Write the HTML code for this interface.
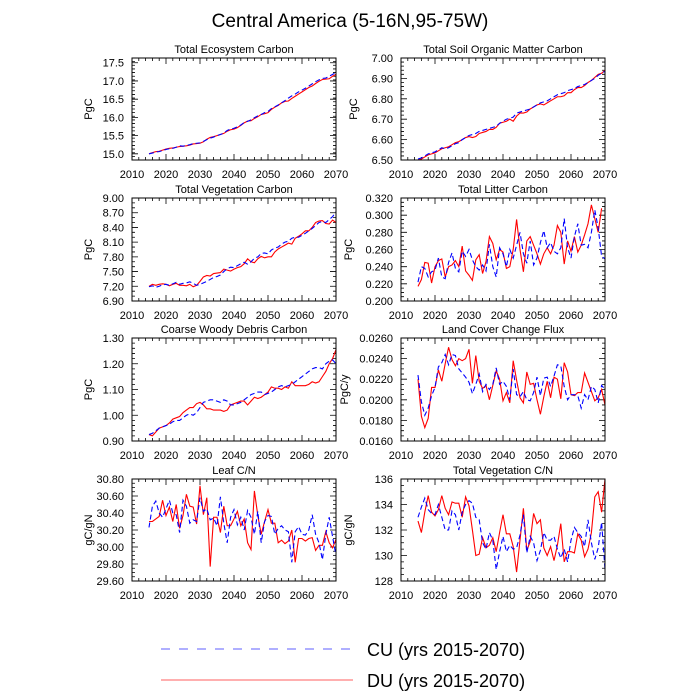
<!DOCTYPE html>
<html><head><meta charset="utf-8"><style>
html,body{margin:0;padding:0;background:#fff;}
svg{display:block;font-family:"Liberation Sans",Arial,sans-serif;}
</style></head><body>
<svg id="fig" width="700" height="700" viewBox="0 0 700 700">
<text x="350" y="27" text-anchor="middle" font-size="19">Central America (5-16N,95-75W)</text>
<g>
<line x1="161" y1="649" x2="353" y2="649" stroke="#5f5fff" stroke-width="1" stroke-dasharray="9,9"/>
<text x="367" y="656" font-size="18">CU (yrs 2015-2070)</text>
<line x1="161" y1="680" x2="353" y2="680" stroke="#ff5f5f" stroke-width="1"/>
<text x="367" y="687" font-size="18">DU (yrs 2015-2070)</text>
</g>
</svg>
<script>
// ---- data (one value per year, starting 2015) ----
const xTickLabels = ["2010","2020","2030","2040","2050","2060","2070"];
const ecoCU = [15.00,15.02,15.05,15.06,15.09,15.12,15.14,15.15,15.18,15.22,15.21,15.23,15.25,15.28,15.29,15.30,15.34,15.39,15.43,15.46,15.50,15.53,15.57,15.64,15.68,15.70,15.74,15.79,15.86,15.89,15.93,15.99,16.04,16.08,16.13,16.16,16.24,16.29,16.34,16.40,16.46,16.53,16.59,16.64,16.70,16.75,16.80,16.86,16.92,16.98,17.03,17.07,17.08,17.13,17.18,17.23];
const ecoDU = [15.00,15.03,15.06,15.07,15.10,15.13,15.15,15.16,15.18,15.20,15.21,15.22,15.24,15.27,15.28,15.29,15.33,15.40,15.45,15.47,15.50,15.53,15.56,15.62,15.66,15.68,15.72,15.78,15.85,15.90,15.91,15.97,16.02,16.08,16.10,16.13,16.22,16.28,16.33,16.40,16.44,16.45,16.52,16.58,16.64,16.70,16.76,16.82,16.86,16.93,16.99,17.04,17.05,17.06,17.13,17.18];
const ecoTicks = ["15.0","15.5","16.0","16.5","17.0","17.5"];
const soilCU = [6.505,6.51,6.52,6.53,6.535,6.54,6.55,6.56,6.555,6.56,6.57,6.58,6.585,6.60,6.61,6.62,6.625,6.63,6.64,6.645,6.65,6.655,6.66,6.665,6.68,6.69,6.70,6.705,6.71,6.73,6.735,6.74,6.745,6.75,6.76,6.77,6.78,6.785,6.79,6.80,6.81,6.82,6.825,6.83,6.84,6.845,6.85,6.86,6.865,6.87,6.88,6.89,6.90,6.915,6.925,6.935];
const soilDU = [6.50,6.505,6.515,6.525,6.53,6.535,6.545,6.555,6.56,6.565,6.575,6.585,6.59,6.60,6.61,6.615,6.61,6.615,6.63,6.635,6.64,6.65,6.65,6.66,6.68,6.685,6.69,6.70,6.69,6.715,6.73,6.73,6.735,6.75,6.76,6.77,6.775,6.77,6.78,6.79,6.80,6.81,6.81,6.815,6.83,6.83,6.845,6.855,6.855,6.865,6.88,6.89,6.905,6.92,6.925,6.94];
const soilTicks = ["6.50","6.60","6.70","6.80","6.90","7.00"];
const vegCU = [7.19,7.21,7.18,7.20,7.23,7.24,7.22,7.25,7.28,7.24,7.26,7.27,7.29,7.26,7.22,7.24,7.27,7.30,7.34,7.38,7.40,7.43,7.50,7.56,7.59,7.58,7.62,7.66,7.69,7.65,7.70,7.77,7.80,7.87,7.88,7.86,7.94,7.98,8.00,8.06,8.10,8.12,8.18,8.20,8.20,8.24,8.28,8.33,8.38,8.44,8.50,8.52,8.50,8.56,8.62,8.72];
const vegDU = [7.20,7.24,7.22,7.24,7.25,7.24,7.21,7.24,7.26,7.22,7.22,7.21,7.24,7.19,7.22,7.30,7.39,7.42,7.41,7.46,7.47,7.48,7.55,7.53,7.51,7.55,7.58,7.60,7.66,7.76,7.70,7.68,7.76,7.81,7.78,7.80,7.80,7.90,7.96,8.00,8.04,8.08,8.06,8.18,8.22,8.27,8.33,8.33,8.40,8.50,8.53,8.54,8.48,8.47,8.55,8.50];
const vegTicks = ["6.90","7.20","7.50","7.80","8.10","8.40","8.70","9.00"];
const litCU = [0.222,0.240,0.238,0.228,0.234,0.236,0.250,0.228,0.226,0.245,0.256,0.238,0.234,0.258,0.252,0.260,0.248,0.240,0.236,0.242,0.235,0.266,0.240,0.228,0.262,0.255,0.240,0.260,0.250,0.265,0.280,0.255,0.244,0.270,0.242,0.250,0.268,0.282,0.262,0.268,0.258,0.255,0.262,0.296,0.262,0.250,0.275,0.290,0.265,0.266,0.262,0.280,0.306,0.285,0.252,0.249];
const litDU = [0.217,0.225,0.245,0.244,0.221,0.240,0.247,0.249,0.228,0.240,0.242,0.247,0.240,0.264,0.235,0.230,0.224,0.248,0.254,0.232,0.246,0.275,0.267,0.248,0.260,0.257,0.238,0.240,0.260,0.295,0.260,0.234,0.270,0.275,0.265,0.255,0.243,0.255,0.262,0.255,0.265,0.288,0.280,0.243,0.270,0.258,0.275,0.257,0.265,0.277,0.290,0.312,0.296,0.280,0.308];
const litTicks = ["0.200","0.220","0.240","0.260","0.280","0.300","0.320"];
const cwdCU = [0.925,0.93,0.94,0.95,0.955,0.96,0.965,0.975,0.98,0.98,0.99,1.00,1.005,1.00,1.01,1.03,1.05,1.055,1.06,1.06,1.055,1.05,1.06,1.055,1.04,1.04,1.045,1.05,1.06,1.07,1.08,1.085,1.09,1.09,1.08,1.085,1.09,1.10,1.11,1.115,1.11,1.115,1.12,1.13,1.14,1.15,1.16,1.17,1.18,1.185,1.185,1.18,1.20,1.21,1.215,1.20];
const cwdDU = [0.925,0.92,0.935,0.95,0.955,0.96,0.97,0.985,0.99,0.995,1.01,1.02,1.03,1.03,1.045,1.05,1.04,1.025,1.025,1.02,1.02,1.02,1.015,1.02,1.04,1.045,1.05,1.055,1.055,1.04,1.055,1.07,1.065,1.07,1.08,1.09,1.11,1.105,1.105,1.10,1.11,1.105,1.13,1.115,1.115,1.115,1.115,1.12,1.13,1.125,1.13,1.15,1.17,1.20,1.22,1.255];
const cwdTicks = ["0.90","1.00","1.10","1.20","1.30"];
const lccCU = [0.0224,0.0198,0.0185,0.0192,0.0204,0.0212,0.0232,0.0236,0.0244,0.0234,0.0244,0.0243,0.0230,0.0226,0.0222,0.0217,0.0206,0.0215,0.0225,0.0208,0.0215,0.0210,0.0215,0.0231,0.0215,0.0218,0.0213,0.0200,0.0230,0.0205,0.0203,0.0208,0.0200,0.0199,0.0207,0.0222,0.0204,0.0221,0.0222,0.0213,0.0223,0.0234,0.0233,0.0213,0.0200,0.0205,0.0205,0.0204,0.0192,0.0205,0.0200,0.0213,0.0210,0.0197,0.0214,0.0210];
const lccDU = [0.0220,0.0184,0.0173,0.0182,0.0212,0.0212,0.0229,0.0218,0.0235,0.0251,0.0239,0.0233,0.0240,0.0238,0.0240,0.0249,0.0216,0.0243,0.0218,0.0211,0.0214,0.0200,0.0214,0.0228,0.0220,0.0199,0.0207,0.0197,0.0238,0.0219,0.0202,0.0197,0.0227,0.0215,0.0216,0.0200,0.0186,0.0203,0.0218,0.0202,0.0222,0.0220,0.0201,0.0236,0.0227,0.0205,0.0204,0.0207,0.0207,0.0226,0.0217,0.0208,0.0199,0.0202,0.0210,0.0195];
const lccTicks = ["0.0160","0.0180","0.0200","0.0220","0.0240","0.0260"];
const leafCU = [30.23,30.48,30.54,30.40,30.35,30.45,30.55,30.40,30.38,30.17,30.55,30.48,30.28,30.32,30.30,30.58,30.42,30.45,30.32,30.34,30.25,30.59,30.28,30.05,30.35,30.44,30.26,30.35,30.20,30.43,30.35,30.15,30.42,30.05,30.30,30.37,30.36,30.15,30.22,30.25,30.20,30.18,29.82,30.18,30.24,30.15,30.14,30.20,30.38,30.15,30.05,29.85,30.15,30.35,30.12,29.90];
const leafDU = [30.30,30.30,30.33,30.36,30.55,30.37,30.47,30.30,30.50,30.22,30.37,30.62,30.48,30.47,30.27,30.72,30.38,30.58,29.77,30.35,30.35,30.17,30.48,30.25,30.25,30.33,30.42,30.25,30.33,30.05,29.97,30.66,30.37,30.15,30.30,30.44,30.28,30.28,30.05,30.08,30.04,30.07,30.20,29.82,30.10,30.10,30.07,30.10,30.11,29.96,30.02,30.02,30.18,30.05,29.99,30.09];
const leafTicks = ["29.60","29.80","30.00","30.20","30.40","30.60","30.80"];
const vcnCU = [133.0,133.8,134.5,133.6,133.3,133.2,134.0,133.0,132.0,132.0,133.5,133.2,132.0,133.4,134.0,134.3,134.1,133.0,132.8,131.0,130.5,131.8,131.2,128.9,130.3,131.5,130.3,130.8,130.5,130.6,131.6,133.2,130.2,131.5,131.0,129.6,130.4,131.8,131.2,131.2,131.5,130.5,129.8,130.5,129.5,131.2,132.2,131.8,131.5,130.7,132.8,131.0,129.7,130.6,132.6,128.9];
const vcnDU = [132.7,131.8,133.4,134.7,133.4,133.1,133.6,134.7,133.7,133.2,134.2,134.1,134.1,133.0,134.6,133.9,132.0,130.0,130.1,131.4,130.6,130.8,131.4,130.3,131.8,133.2,131.7,131.7,130.7,128.7,131.2,133.7,130.4,131.1,133.3,132.5,132.8,130.6,130.0,130.7,129.6,130.8,132.5,129.5,130.3,130.3,130.2,131.7,131.2,129.9,130.5,131.8,134.6,135.0,133.4,136.0];
const vcnTicks = ["128","130","132","134","136"];

// ---- layout ----
const NS="http://www.w3.org/2000/svg";
const svg=document.getElementById('fig');
const colX=[[132,336],[401,605]];
const rowY=[[58,160],[198,301],[338,441],[479,581]];
const panels=[
 {name:'ecosystem-carbon',title:'Total Ecosystem Carbon',unit:'PgC',r:0,c:0,ymin:14.83,ymax:17.63,ticks:ecoTicks,cu:ecoCU,du:ecoDU,minor:0.1},
 {name:'soil-carbon',title:'Total Soil Organic Matter Carbon',unit:'PgC',r:0,c:1,ymin:6.5,ymax:7.0,ticks:soilTicks,cu:soilCU,du:soilDU,minor:0.02},
 {name:'vegetation-carbon',title:'Total Vegetation Carbon',unit:'PgC',r:1,c:0,ymin:6.9,ymax:9.0,ticks:vegTicks,cu:vegCU,du:vegDU,minor:0.1},
 {name:'litter-carbon',title:'Total Litter Carbon',unit:'PgC',r:1,c:1,ymin:0.2,ymax:0.32,ticks:litTicks,cu:litCU,du:litDU,minor:0.005},
 {name:'cwd-carbon',title:'Coarse Woody Debris Carbon',unit:'PgC',r:2,c:0,ymin:0.9,ymax:1.3,ticks:cwdTicks,cu:cwdCU,du:cwdDU,minor:0.02},
 {name:'land-cover-flux',title:'Land Cover Change Flux',unit:'PgC/y',r:2,c:1,ymin:0.016,ymax:0.026,ticks:lccTicks,cu:lccCU,du:lccDU,minor:0.0005},
 {name:'leaf-cn',title:'Leaf C/N',unit:'gC/gN',r:3,c:0,ymin:29.6,ymax:30.8,ticks:leafTicks,cu:leafCU,du:leafDU,minor:0.05},
 {name:'vegetation-cn',title:'Total Vegetation C/N',unit:'gC/gN',r:3,c:1,ymin:128,ymax:136,ticks:vcnTicks,cu:vcnCU,du:vcnDU,minor:0.5}
];
function mk(tag,attrs,parent){const e=document.createElementNS(NS,tag);for(const k in attrs)e.setAttribute(k,attrs[k]);parent.appendChild(e);return e;}
panels.forEach(p=>{
 const [x0,x1]=colX[p.c],[y0,y1]=rowY[p.r];
 const xs=yr=>x0+(yr-2010)/60*(x1-x0);
 const ys=v=>y1-(v-p.ymin)/(p.ymax-p.ymin)*(y1-y0);
 const g=mk('g',{},svg);
 
 
 const t=mk('text',{x:(x0+x1)/2,y:y0-5,'text-anchor':'middle','font-size':'11'},g);t.textContent=p.title;
 
 
 let tk='';
 for(let yr=2010;yr<=2070;yr+=2){const X=xs(yr);const L=(yr%10===0)?6:3;tk+=`M${X},${y1}v${-L}M${X},${y0}v${L}`;}
 for(let v=p.ymin;v<=p.ymax+1e-9;v+=p.minor){const Y=ys(v);tk+=`M${x0},${Y}h3M${x1},${Y}h-3`;}
 p.ticks.forEach(s=>{const Y=ys(parseFloat(s));tk+=`M${x0},${Y}h6M${x1},${Y}h-6`;});
 const tp=mk('path',{d:tk,stroke:'#000','stroke-width':'0.8',fill:'none'},g);
 
 
 xTickLabels.forEach(s=>{const l=mk('text',{x:xs(+s),y:y1+18,'text-anchor':'middle','font-size':'11'},g);l.textContent=s;
  
  });
 p.ticks.forEach(s=>{const l=mk('text',{x:x0-8,y:ys(parseFloat(s))+4,'text-anchor':'end','font-size':'11'},g);l.textContent=s;
  
  });
 const ux=p.c===0?92:(p.name==='soil-carbon'?357:(p.name==='land-cover-flux'?348:352));
 const ul=mk('text',{x:ux,y:(y0+y1)/2,'text-anchor':'middle','font-size':'11',transform:`rotate(-90 ${ux} ${(y0+y1)/2})`},g);ul.textContent=p.unit;
 
 
 const pts=a=>a.map((v,i)=>`${xs(2015+i).toFixed(2)},${ys(v).toFixed(2)}`).join(' ');
 const du=mk('polyline',{points:pts(p.du),fill:'none',stroke:'#ff0000','stroke-width':'1.1'},g);
 
 
 const cu=mk('polyline',{points:pts(p.cu),fill:'none',stroke:'#0000ff','stroke-width':'1.1','stroke-dasharray':'5,3'},g);
 
 
 const fr=mk('rect',{x:x0,y:y0,width:x1-x0,height:y1-y0,fill:'none',stroke:'#000','stroke-width':'1'},g);
 
 
});
</script>
</body></html>
